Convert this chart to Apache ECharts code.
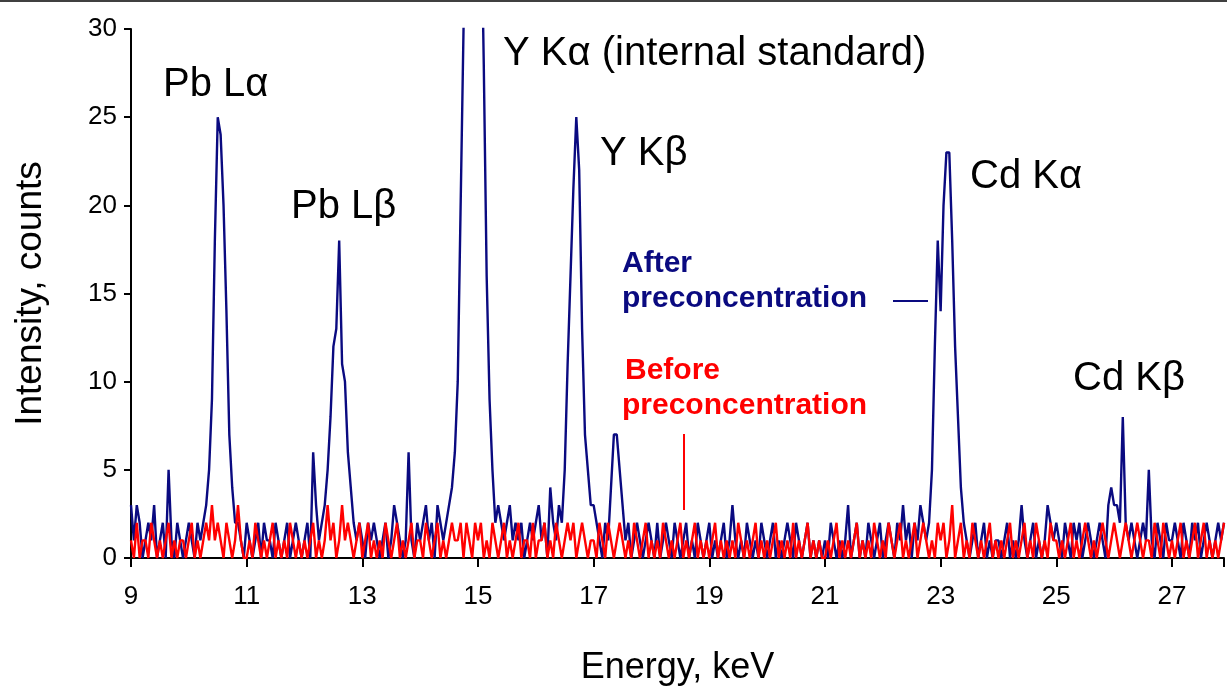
<!DOCTYPE html>
<html>
<head>
<meta charset="utf-8">
<script src="https://cdn.jsdelivr.net/npm/echarts@6/dist/echarts.min.js"></script>
<style>
  html, body { margin: 0; padding: 0; background: #fff; }
  #chart { width: 1227px; height: 691px; }
</style>
</head>
<body>
<div id="chart"></div>
<script>
// channel step and start energy (keV)
const eStart = 9;
const eStep = 0.05;

// counts after preconcentration, one row per keV (9, 10, ... 27)
const afterRows = [
  [3,1,3,2,0,1,2,1,3,0,1,2,0,5,1,0,2,1,0,1],
  [2,1,0,2,1,2,3,5,9,18,25,24,20,14,7,4,2,2,1,0],
  [2,1,0,1,2,0,2,1,1,0,2,1,0,1,2,0,1,2,1,0],
  [1,2,0,6,3,1,2,3,5,8,12,13,18,11,10,6,4,2,1,2],
  [1,0,2,1,2,1,0,1,2,0,1,3,2,1,0,1,6,1,0,2],
  [1,2,3,1,2,0,3,2,1,2,3,4,6,10,20,30,40,50,55,55],
  [50,38,28,16,9,5,2,3,2,1,2,3,1,2,1,2,0,1,2,1],
  [2,3,1,2,0,4,2,1,3,2,5,11,16,21,25,22,13,7,5,3],
  [3,2,1,0,2,1,4,7,7,5,3,1,2,0,1,2,1,0,1,2],
  [1,0,2,0,1,2,1,0,2,1,0,1,2,0,1,0,2,1,0,1],
  [2,0,1,0,1,2,0,1,3,1,0,1,0,2,1,0,1,0,2,1],
  [0,1,2,0,1,0,1,2,1,0,2,1,0,1,2,0,1,0,1,0],
  [1,0,2,1,0,1,0,1,3,0,1,2,0,1,0,2,1,0,1,2],
  [0,1,2,1,0,2,1,3,1,2,0,2,1,3,2,1,2,5,12,18],
  [14,20,23,23,18,12,8,4,2,1,0,1,2,0,1,2,0,1,0,1],
  [1,0,1,2,0,1,0,1,3,1,0,1,2,0,1,0,1,3,2,1],
  [2,1,0,2,1,0,2,1,2,0,1,2,1,0,1,2,1,0,3,4],
  [3,3,2,8,2,1,2,1,0,1,2,1,5,1,0,2,1,0,2,1],
  [1,2,1,0,2,1,0,2,1,2,0,1,2,1,0,1,2,1,2]
];

// counts before preconcentration
const beforeRows = [
  [1,0,2,0,1,1,0,2,1,0,1,0,1,2,0,1,0,1,1,0],
  [1,2,0,1,0,1,2,1,3,1,2,1,0,2,1,0,1,3,1,0],
  [0,1,0,2,1,0,1,0,1,2,0,1,0,1,0,2,1,0,1,0],
  [1,0,1,2,0,1,0,1,3,1,2,0,1,3,1,2,1,0,1,2],
  [0,1,2,0,1,0,1,0,2,1,0,1,2,0,1,0,1,2,0,1],
  [1,0,2,1,0,1,2,0,1,0,1,2,1,1,2,0,2,1,0,2],
  [1,2,0,1,0,2,1,0,1,2,0,1,0,1,2,0,1,1,0,2],
  [0,1,1,2,0,1,0,2,1,0,1,2,1,2,0,1,2,1,0,1],
  [1,0,2,1,0,2,1,0,1,2,1,0,1,0,2,1,0,1,2,0],
  [1,0,1,0,2,1,0,1,0,1,2,0,1,0,1,2,0,1,0,1],
  [0,1,2,0,1,0,1,0,1,0,2,1,0,1,0,1,2,0,1,0],
  [1,0,1,2,0,1,0,1,0,2,0,1,0,1,2,0,1,0,1,0],
  [0,1,0,1,2,0,1,0,1,0,1,2,0,1,0,1,0,2,1,0],
  [1,0,2,1,0,1,2,0,1,0,1,2,0,1,2,1,0,1,0,2],
  [1,2,0,1,3,0,1,2,0,1,0,2,1,0,1,0,1,2,0,1],
  [0,1,0,1,2,0,1,0,1,2,0,1,0,2,1,0,1,0,2,1],
  [1,0,1,0,1,2,0,1,0,1,2,1,0,1,0,1,2,1,0,1],
  [2,1,0,1,2,1,0,1,2,1,0,1,1,0,2,1,0,2,1,0],
  [1,0,1,2,0,1,0,1,2,0,1,2,0,1,0,1,0,1,2]
];

const xTicks = [9, 11, 13, 15, 17, 19, 21, 23, 25, 27];

function toPairs(rows) {
  const out = [];
  rows.forEach((row, k) => {
    row.forEach((v, i) => {
      out.push([+(eStart + k + i * eStep).toFixed(2), v]);
    });
  });
  return out;
}

const chart = echarts.init(document.getElementById('chart'));
const font = 'Liberation Sans, Arial, sans-serif';
const navy = '#0a0a80';
const red = '#ff0000';

// text placed by its vertical centre
function label(text, x, cy, size, color, weight) {
  return {
    type: 'text', left: x, top: cy - size * 0.58,
    style: { text, fontSize: size, fontFamily: font, fill: color || '#000', fontWeight: weight || 'normal' }
  };
}

chart.setOption({
  animation: false,
  grid: { left: 131, right: 0, top: 29, bottom: 130 },
  xAxis: {
    type: 'value', min: 9, max: 27.9, interval: 2,
    name: 'Energy, keV', nameLocation: 'middle', nameGap: 92,
    nameTextStyle: { fontSize: 36, fontFamily: font, color: '#000' },
    axisLine: { lineStyle: { color: '#000', width: 2 } },
    axisTick: { length: 9, lineStyle: { color: '#000', width: 2 } },
    axisLabel: {
      fontSize: 26, fontFamily: font, color: '#000', margin: 26,
      formatter: (v) => (xTicks.includes(v) ? String(v) : '')
    },
    splitLine: { show: false }
  },
  yAxis: {
    type: 'value', min: 0, max: 30, interval: 5,
    name: 'Intensity, counts', nameLocation: 'middle', nameGap: 82,
    nameTextStyle: { fontSize: 37, fontFamily: font, color: '#000' },
    axisLine: { show: true, lineStyle: { color: '#000', width: 2 } },
    axisTick: { show: true, length: 7, lineStyle: { color: '#000', width: 2 } },
    axisLabel: { fontSize: 26, fontFamily: font, color: '#000', margin: 14 },
    splitLine: { show: false }
  },
  series: [
    {
      name: 'After', type: 'line', data: toPairs(afterRows),
      showSymbol: false, clip: true,
      lineStyle: { color: navy, width: 2.4 }
    },
    {
      name: 'Before', type: 'line', data: toPairs(beforeRows),
      showSymbol: false, clip: true,
      lineStyle: { color: red, width: 2.4 }
    }
  ],
  graphic: [
    { type: 'line', shape: { x1: 0, y1: 1, x2: 1227, y2: 1 }, style: { stroke: '#000', lineWidth: 1.5 } },
    label('Pb L\u03b1', 163, 88, 40),
    label('Pb L\u03b2', 291, 210, 40),
    label('Y K\u03b1 (internal standard)', 503, 57, 40),
    label('Y K\u03b2', 600, 157, 40),
    label('Cd K\u03b1', 970, 180, 40),
    label('Cd K\u03b2', 1073, 382, 40),
    label('After', 622, 266, 30, navy, 'bold'),
    label('preconcentration', 622, 301, 30, navy, 'bold'),
    { type: 'line', shape: { x1: 893, y1: 301, x2: 928, y2: 301 }, style: { stroke: navy, lineWidth: 2 } },
    label('Before', 625, 373, 30, red, 'bold'),
    label('preconcentration', 622, 408, 30, red, 'bold'),
    { type: 'line', shape: { x1: 684, y1: 434, x2: 684, y2: 510 }, style: { stroke: red, lineWidth: 2 } }
  ]
});
</script>
</body>
</html>
